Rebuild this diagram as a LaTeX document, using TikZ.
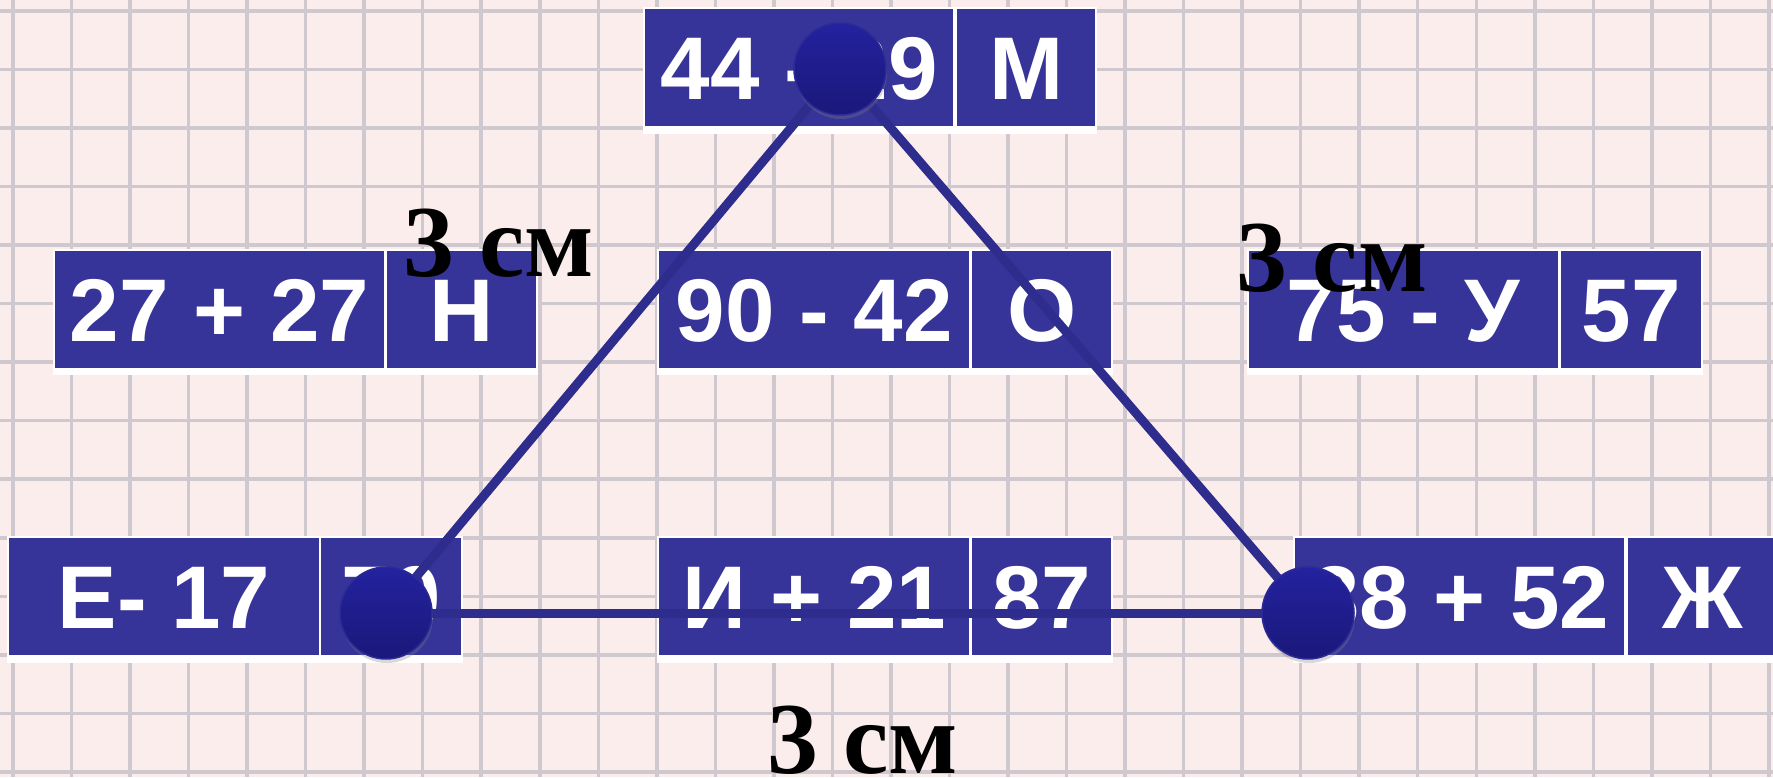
\documentclass[tikz,border=0pt]{standalone}
\usepackage{fontspec}
\setmainfont{Liberation Sans}
\newfontfamily\cmfont{Liberation Serif}
\usetikzlibrary{shadows}
\definecolor{bgpink}{RGB}{252,237,237}
\definecolor{gridgray}{RGB}{208,200,207}
\definecolor{boxblue}{RGB}{54,52,152}
\definecolor{lineblue}{RGB}{46,44,140}
\definecolor{dottop}{RGB}{36,34,158}
\definecolor{dotbot}{RGB}{26,24,122}
\definecolor{dotedge}{RGB}{44,42,150}
\tikzset{
  cell/.style={fill=boxblue, text=white, inner sep=0pt, anchor=north west,
    minimum height=117pt, text height=63pt, text depth=0pt,
    font=\fontsize{89}{90}\selectfont\bfseries},
  wide/.style={minimum width=310pt},
  wider/.style={minimum width=329pt},
  narrow/.style={minimum width=140pt},
  narrower/.style={minimum width=149pt},
  plate/.style={fill=white},
  edge/.style={draw=lineblue, line width=9pt},
  dot/.style={circle, minimum size=92pt, inner sep=0pt, top color=dottop,
    bottom color=dotbot, draw=dotedge, line width=1.5pt,
    drop shadow={shadow xshift=1pt, shadow yshift=-4pt, opacity=0.3}},
  cmlabel/.style={inner sep=0pt, anchor=base west, text=black,
    font=\fontsize{102}{102}\selectfont\cmfont\bfseries},
  gridline/.style={draw=gridgray, line width=3.5pt}
}
\begin{document}
\begin{tikzpicture}[x=1pt,y=-1pt]
\useasboundingbox (0,0) rectangle (1773,777);
\clip (0,0) rectangle (1773,777);
\fill[bgpink] (0,0) rectangle (1773,777);
\foreach \i in {0,...,30} {\draw[gridline] ({13+58.53*\i},0) -- ({13+58.53*\i},777);}
\foreach \j in {0,...,13} {\draw[gridline] (0,{11+58.53*\j}) -- (1773,{11+58.53*\j});}

% top box
\fill[plate] (643,7) rectangle (1097,134);
\node[cell, minimum width=308pt] (t1) at (645,9) {44 - 29};
\node[cell, minimum width=138pt] (t2) at (957,9) {М};

% middle row
\fill[plate] (53,249) rectangle (538,375);
\node[cell, wider] (a1) at (55,251) {27 + 27};
\node[cell, narrower] (a2) at (387,251) {Н};

\fill[plate] (657,249) rectangle (1113,375);
\node[cell, wide] (b1) at (659,251) {90 - 42};
\node[cell, minimum width=139pt] (b2) at (972,251) {О};

\fill[plate] (1247,249) rectangle (1703,375);
\node[cell, minimum width=309pt] (c1) at (1249,251) {75 - У};
\node[cell, narrow] (c2) at (1561,251) {57};

% bottom row
\fill[plate] (7,536) rectangle (463,663);
\node[cell, wide] (d1) at (9,538) {Е- 17};
\node[cell, narrow] (d2) at (321,538) {70};

\fill[plate] (657,536) rectangle (1113,663);
\node[cell, wide] (e1) at (659,538) {И + 21};
\node[cell, minimum width=139pt] (e2) at (972,538) {87};

\fill[plate] (1293,536) rectangle (1780,663);
\node[cell, wider] (f1) at (1295,538) {38 + 52};
\node[cell, narrower] (f2) at (1628,538) {Ж};

% triangle
\coordinate (P) at (840,69);
\coordinate (Q) at (386,613);
\coordinate (R) at (1308,613);
\draw[edge] (P) -- (Q);
\draw[edge] (P) -- (R);
\draw[edge] (Q) -- (R);
\node[dot] (Pd) at (P) {};
\node[dot] (Qd) at (Q) {};
\node[dot] (Rd) at (R) {};

% labels
\node[cmlabel] (l1) at (403,276) {3 см};
\node[cmlabel] (l2) at (1236,291) {3 см};
\node[cmlabel] (l3) at (767,773) {3 см};
\end{tikzpicture}
\end{document}
